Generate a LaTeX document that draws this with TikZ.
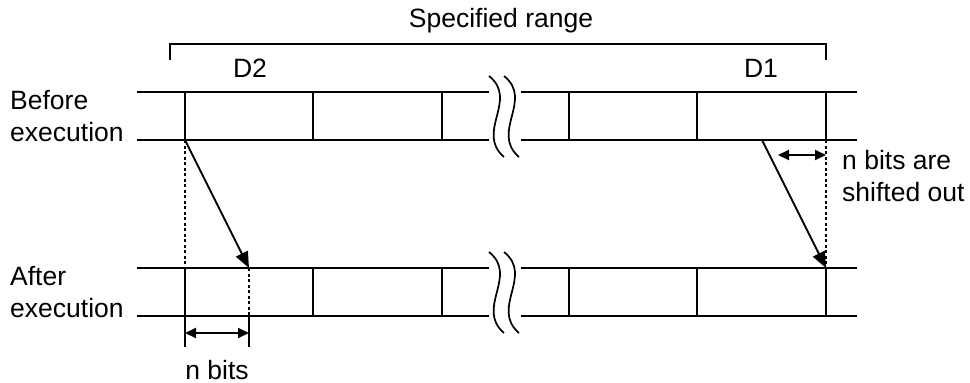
\documentclass[tikz,border=0pt]{standalone}
\usepackage{fontspec}
\setmainfont{Liberation Sans}
\usetikzlibrary{arrows.meta}
\begin{document}
\begin{tikzpicture}[x=1pt,y=-1pt,
  reg/.style={line width=2pt,line cap=butt},
  dotline/.style={line width=1.6pt,dash pattern=on 3pt off 2.5pt},
  shiftarrow/.style={line width=1.8pt,-{Triangle[length=16pt,width=13pt]}},
  dimarrow/.style={line width=2pt,{Triangle[length=11pt,width=10pt]}-{Triangle[length=11pt,width=10pt]}},
  lbl/.style={inner sep=0pt,font=\fontsize{26.5}{32}\selectfont},
  brk/.style={line width=1.7pt}]
\useasboundingbox (0,0) rectangle (970,383);

% register rows: top y=92/140, bottom y=268/316
\foreach \r/\ya/\yb in {T/92/140,B/268/316}{
  \foreach \n/\x in {1/185,2/313,3/442,4/569,5/697,6/826}{
    \coordinate (\r a\n) at (\x,\ya);
    \coordinate (\r b\n) at (\x,\yb);
  }
  \coordinate (\r aL) at (137,\ya); \coordinate (\r bL) at (137,\yb);
  \coordinate (\r aM) at (489,\ya); \coordinate (\r bM) at (489,\yb);
  \coordinate (\r aN) at (521,\ya); \coordinate (\r bN) at (521,\yb);
  \coordinate (\r aR) at (857,\ya); \coordinate (\r bR) at (857,\yb);
  \draw[reg] (\r aL) -- (\r aM) (\r aN) -- (\r aR);
  \draw[reg] (\r bL) -- (\r bM) (\r bN) -- (\r bR);
  \foreach \n in {1,...,6}{ \draw[reg] (\r a\n) -- (\r b\n); }
}

% wavy break marks
\foreach \y in {0,176}{
  \foreach \dx in {0,15}{
    \draw[brk] (489+\dx,76+\y) .. controls (519+\dx,100+\y) and (475+\dx,132+\y) .. (504+\dx,157+\y);
  }
}

% bracket
\coordinate (k1) at (170,60); \coordinate (k2) at (170,44);
\coordinate (k3) at (826,44); \coordinate (k4) at (826,60);
\draw[reg] (k1) -- (k2) -- (k3) -- (k4);
\node[lbl,anchor=base] (range) at (501,27) {Specified range};
\node[lbl,anchor=base] (d2) at (250,77) {D2};
\node[lbl,anchor=base] (d1) at (761,77) {D1};

% row labels
\node[lbl,anchor=west,align=left] (before) at (10,116) {Before\\execution};
\node[lbl,anchor=west,align=left] (after) at (10,292) {After\\execution};

% shift arrows
\coordinate (s1) at (762,140);
\coordinate (nb) at (249,268);
\coordinate (nbb) at (249,316);
\draw[shiftarrow] (Tb1) -- (nb);
\draw[shiftarrow] (s1) -- (Ba6);

% dotted guides
\draw[dotline] (Tb1) -- (Ba1);
\draw[dotline] (nb) -- (nbb);
\draw[dotline] (Tb6) -- (Ba6);

% n bits dimension
\coordinate (t1) at (185,347); \coordinate (t2) at (249,347);
\draw[reg] (Bb1) -- (t1);
\draw[reg] (nbb) -- (t2);
\coordinate (m1) at (185,333); \coordinate (m2) at (249,333);
\draw[dimarrow] (m1) -- (m2);
\node[lbl,anchor=base] (nbits) at (217,379) {n bits};

% shifted-out dimension
\coordinate (o1) at (778,155); \coordinate (o2) at (826,155);
\draw[dimarrow] (o1) -- (o2);
\node[lbl,anchor=west,align=left] (shout) at (842,176) {n bits are\\shifted out};
\end{tikzpicture}
\end{document}
